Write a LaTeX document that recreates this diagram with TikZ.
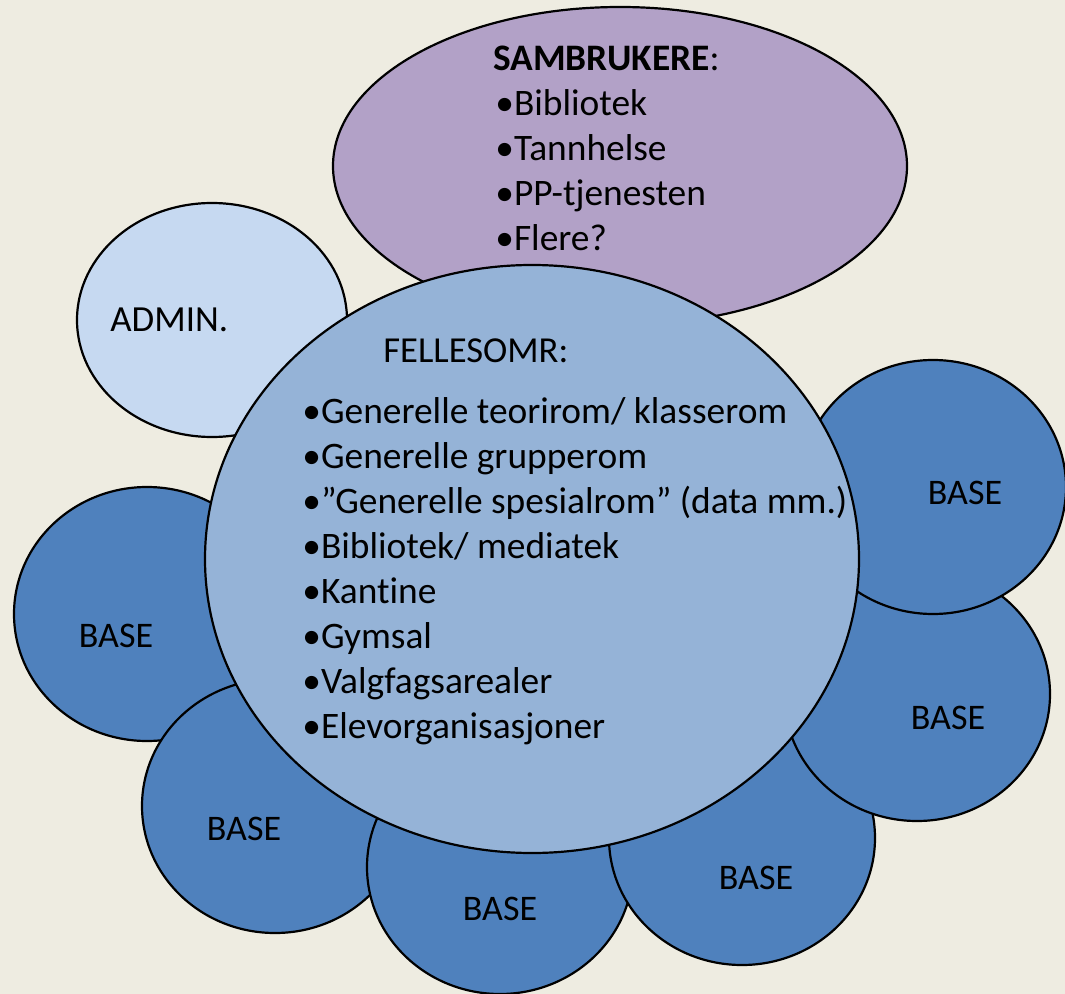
\documentclass[tikz,border=0pt]{standalone}
\usepackage{fontspec}
\setmainfont{Carlito}[Ligatures=NoCommon]
\usetikzlibrary{shapes.geometric}
\definecolor{paper}{HTML}{EEECE1}
\definecolor{basefill}{HTML}{4F81BD}
\definecolor{fellesfill}{HTML}{95B3D7}
\definecolor{adminfill}{HTML}{C6D9F1}
\definecolor{sambrukfill}{HTML}{B2A1C7}
\newcommand{\strek}{1.1pt}

\begin{document}
\begin{tikzpicture}[x=.5pt,y=-.5pt,
    rom/.style={draw, ellipse, line width=\strek, inner sep=0pt, outer sep=0pt},
    baserom/.style={rom, fill=basefill, minimum width=133pt, minimum height=127pt},
    tekst/.style={inner sep=0pt, font=\fontsize{18pt}{21.6pt}\selectfont},
    punkt/.style={tekst, anchor=base west, font=\fontsize{18.7pt}{22pt}\selectfont}]

        \fill[paper] (0,0) rectangle (1065,994);
        \useasboundingbox (0,0) rectangle (1065,994);

        \node (sambruk) at (620,166) [rom, fill=sambrukfill, minimum width=287pt, minimum height=159pt] {};
        \node (admin) at (212,320) [rom, fill=adminfill, minimum width=135pt, minimum height=117pt] {};
        \node (base1) at (147,614) [baserom] {};
        \node (base2) at (275,806) [baserom] {};
        \node (base3) at (500,867) [baserom] {};
        \node (base4) at (742,838) [baserom] {};
        \node (base5) at (917,694) [baserom] {};
        \node (base6) at (933,487) [baserom] {};
        \node (felles) at (532,559) [rom, fill=fellesfill, minimum width=327pt, minimum height=294pt] {};

        % sambrukere
        \node (s0) at (493,71) [punkt] {\textbf{SAMBRUKERE}:};
        \node (s1) at (495,116) [punkt] {•Bibliotek};
        \node (s2) at (495,161) [punkt] {•Tannhelse};
        \node (s3) at (495,206) [punkt] {•PP-tjenesten};
        \node (s4) at (495,251) [punkt] {•Flere?};

        \node (tadmin) at (110,332) [punkt, font=\fontsize{18.4pt}{22pt}\selectfont] {ADMIN.};

        % fellesomr
        \node (f0) at (383,363) [punkt, font=\fontsize{18.3pt}{22pt}\selectfont] {FELLESOMR:};
        \node (f1) at (302,423) [punkt] {•Generelle teorirom/ klasserom};
        \node (f2) at (302,468) [punkt] {•Generelle grupperom};
        \node (f3) at (302,513) [punkt] {•”Generelle spesialrom” (data mm.)};
        \node (f4) at (302,558) [punkt] {•Bibliotek/ mediatek};
        \node (f5) at (302,603) [punkt] {•Kantine};
        \node (f6) at (302,648) [punkt] {•Gymsal};
        \node (f7) at (302,693) [punkt] {•Valgfagsarealer};
        \node (f8) at (302,738) [punkt] {•Elevorganisasjoner};

        \node (tbase1) at (116,647) [tekst, anchor=base] {BASE};
        \node (tbase2) at (244,840) [tekst, anchor=base] {BASE};
        \node (tbase3) at (500,920) [tekst, anchor=base] {BASE};
        \node (tbase4) at (756,889) [tekst, anchor=base] {BASE};
        \node (tbase5) at (948,729) [tekst, anchor=base] {BASE};
        \node (tbase6) at (965,504) [tekst, anchor=base] {BASE};

\end{tikzpicture}
\end{document}
